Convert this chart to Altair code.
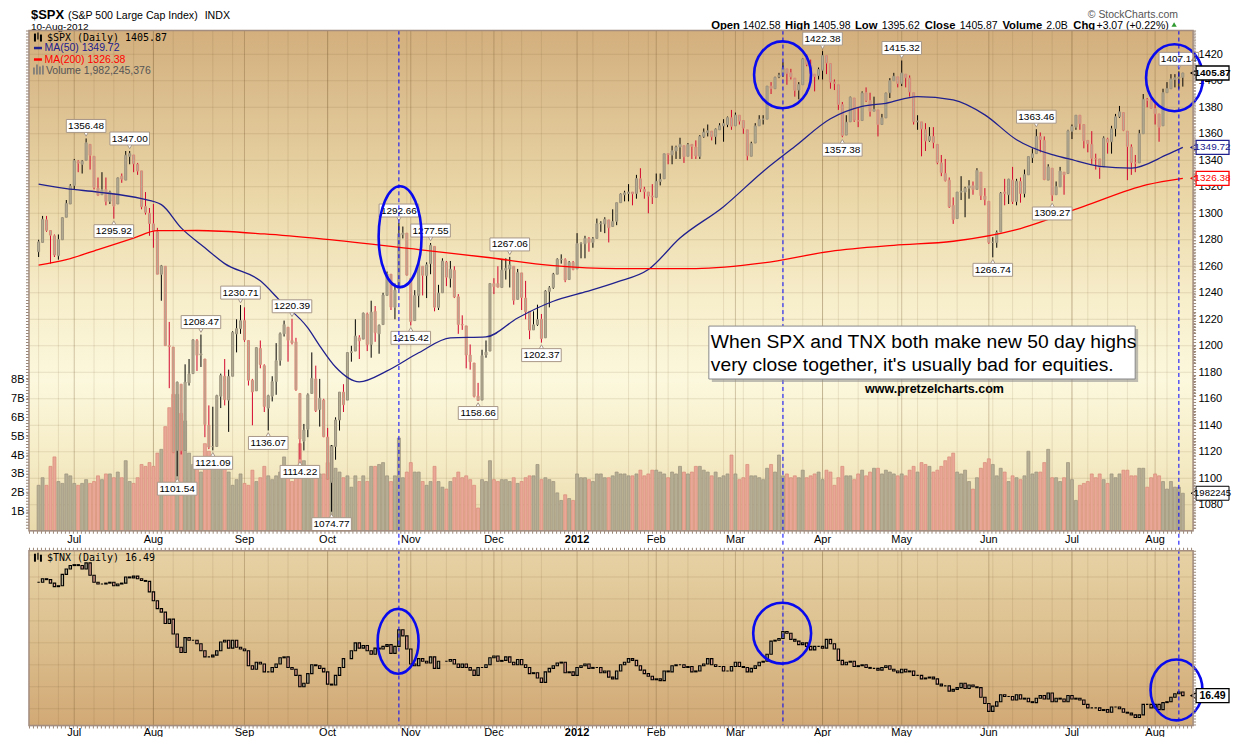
import altair as alt
import pandas as pd
import numpy as np

FONT = "Liberation Sans"
MONO = "DejaVu Sans Mono"

# ---------------- calendar ----------------
HOLIDAYS = ["2011-07-04", "2011-09-05", "2011-11-24", "2011-12-26", "2012-01-02",
            "2012-01-16", "2012-02-20", "2012-04-06", "2012-05-28", "2012-07-04"]
FIRST_DAY, LAST_DAY = "2011-06-20", "2012-08-10"

# ---------------- $SPX daily OHLC ----------------
SPX_OPEN = [
 1271,1278,1295,1287,1283,1268,1280,1297,1307,1321,
 1339,1337,1340,1352,1343,1319,1314,1318,1309,1315,
 1307,1328,1325,1343,1344,1337,1332,1305,1300,1292,
 1286,1254,1260,1200,1199,1121,1171,1121,1172,1179,
 1204,1193,1190,1140,1124,1124,1162,1177,1159,1177,
 1209,1213,1219,1204,1174,1166,1198,1185,1153,1162,
 1173,1189,1209,1214,1204,1203,1164,1128,1137,1164,
 1175,1152,1159,1131,1097,1124,1144,1165,1159,1195,
 1196,1206,1205,1224,1201,1226,1209,1216,1238,1254,
 1229,1243,1284,1285,1251,1219,1238,1260,1253,1262,
 1275,1229,1240,1263,1251,1257,1237,1216,1215,1193,
 1187,1162,1159,1193,1196,1247,1247,1244,1257,1258,
 1260,1235,1255,1236,1226,1212,1216,1220,1206,1241,
 1244,1254,1265,1265,1250,1263,1258,1277,1277,1281,
 1278,1281,1292,1292,1295,1290,1294,1308,1314,1315,
 1316,1315,1326,1318,1316,1313,1312,1324,1326,1345,
 1344,1347,1350,1351,1343,1352,1350,1343,1358,1361,
 1362,1358,1363,1366,1367,1372,1366,1374,1370,1363,
 1343,1353,1366,1371,1371,1396,1394,1403,1404,1409,
 1406,1402,1393,1397,1417,1412,1405,1404,1408,1419,
 1413,1399,1397,1382,1359,1369,1387,1370,1370,1391,
 1385,1377,1378,1367,1372,1391,1400,1403,1398,1405,
 1402,1391,1369,1369,1363,1355,1358,1352,1338,1330,
 1325,1306,1296,1316,1316,1319,1321,1318,1331,1313,
 1309,1278,1278,1286,1316,1314,1325,1309,1324,1315,
 1329,1342,1345,1358,1355,1325,1334,1314,1320,1331,
 1330,1362,1365,1374,1367,1355,1352,1341,1341,1335,
 1356,1354,1364,1373,1376,1362,1350,1338,1338,1360,
 1386,1385,1379,1375,1366,1391,1394,1401,1402,1402.58,
]
SPX_HIGH = [
 1280,1298,1298,1287,1284,1284,1297,1310,1322,1341,
 1340,1340,1356.48,1352,1343,1327,1331,1327,1317,1315,
 1327,1330,1347,1347.00,1344,1338,1332,1316,1304,1307,
 1289,1261,1260,1218,1199,1172.9,1171,1186,1190,1205,
 1205,1208.47,1190,1155,1154,1163,1179,1190,1182,1211,
 1220,1230.71,1229,1204,1175,1199,1204,1186,1163,1177,
 1202,1210,1219,1214,1220.39,1206,1164,1141,1164,1195,
 1185,1175,1160,1138,1125,1146,1165,1171,1195,1200,
 1220,1208,1225,1225,1234,1230,1216,1240,1256,1254,
 1247,1292.66,1290,1285,1251,1242,1264,1260,1263,1277.55,
 1275,1246,1266,1264,1264,1260,1239,1223,1215,1201,
 1187,1172,1197,1204,1247,1251,1260,1265,1266,1267.06,
 1260,1258,1255,1249,1226,1226,1231,1224,1242,1245,
 1255,1266,1269,1266,1264,1264,1285,1278,1283,1282,
 1282,1296,1294,1297,1295,1303,1308,1315,1317,1322,
 1316,1329,1334,1320,1316,1322,1330,1330,1345,1345,
 1351,1351,1357,1351,1353,1352,1355,1359,1364,1367,
 1362,1364,1368,1371,1373,1378,1376,1374,1370,1363,
 1354,1368,1374,1374,1396,1399,1403,1406,1414,1409,
 1409,1402,1399,1417,1420,1416,1405,1410,1422.38,1419,
 1413,1401,1397,1384,1374,1388,1387,1380,1392,1395,
 1391,1388,1378,1375,1391,1402,1406,1403,1415.32,1405,
 1404,1391,1374,1369,1368,1365,1365,1352,1344,1341,
 1327,1312,1316,1328,1320,1325,1324,1334,1331,1319,
 1309,1282,1287,1316,1326,1326,1335,1326,1327,1333,
 1343,1349,1363.46,1361,1358,1337,1334,1324,1335,1331,
 1363,1367,1374,1374,1367,1355,1362,1345,1341,1358,
 1357,1366,1375,1381,1376,1362,1352,1344,1363,1390,
 1387,1387,1385,1375,1394,1399,1405,1405,1407.14,1405.98,
]
SPX_LOW = [
 1267,1278,1286,1262,1267,1265,1280,1297,1307,1318,
 1331,1330,1340,1333,1318,1313,1314,1306,1307,1295.92,
 1307,1323,1325,1337,1331,1329,1303,1299,1283,1274,
 1254,1234,1200,1168,1119,1101.54,1118,1121,1170,1179,
 1181,1184,1131,1122,1121.09,1124,1153,1155,1135,1177,
 1195,1209,1203,1170,1140,1166,1183,1150,1136.07,1158,
 1163,1185,1207,1188,1201,1166,1114.22,1121,1131,1164,
 1150,1139,1131,1099,1074.77,1114,1136,1150,1159,1188,
 1196,1190,1205,1196,1191,1203,1194,1216,1238,1227,
 1220,1243,1281,1253,1215.42,1219,1229,1238,1236,1254,
 1226,1227,1240,1245,1244,1236,1209,1212,1183,1182,
 1161,1158.66,1159,1191,1196,1239,1244,1244,1250,1244,
 1231,1235,1227,1220,1205,1212,1215,1202.37,1206,1229,
 1243,1254,1262,1248,1250,1257,1258,1266,1266,1271,
 1274,1281,1286,1285,1278,1290,1291,1308,1309,1309,
 1306,1311,1316,1311,1300,1307,1312,1321,1326,1337,
 1337,1341,1341,1338,1343,1341,1341,1341,1357,1358,
 1355,1352,1363,1354,1365,1363,1366,1367,1360,1340,
 1343,1353,1366,1367,1371,1390,1394,1402,1403,1397,
 1401,1388,1386,1397,1411,1398,1392,1401,1401,1405,
 1394,1393,1378,1357.38,1359,1369,1369,1365,1370,1384,
 1373,1377,1358,1367,1372,1387,1400,1395,1396,1395,
 1388,1367,1363,1343,1347,1354,1349,1337,1328,1324,
 1304,1292,1296,1310,1297,1311,1314,1318,1310,1306,
 1277,1266.74,1274,1286,1306,1307,1307,1306,1308,1312,
 1329,1338,1345,1346,1325,1325,1309.27,1314,1320,1314,
 1330,1356,1363,1363,1349,1346,1337,1333,1326,1335,
 1345,1345,1358,1372,1362,1325,1329,1331,1338,1360,
 1380,1379,1367,1354,1366,1391,1394,1395,1394,1395.62,
]
SPX_CLOSE = [
 1278.4,1295.5,1287.1,1283.5,1268.5,1280.1,1296.7,1307.4,1320.6,1339.7,
 1337.9,1339.2,1353.2,1343.8,1319.5,1313.6,1317.7,1308.9,1316.1,1305.4,
 1326.7,1325.8,1343.8,1345.0,1337.4,1331.9,1304.9,1300.7,1292.3,1286.9,
 1254.0,1260.3,1200.1,1199.4,1119.5,1172.5,1120.8,1172.6,1178.8,1204.5,
 1192.8,1193.9,1140.6,1123.5,1123.8,1162.4,1177.6,1159.3,1176.8,1210.1,
 1212.9,1218.9,1204.4,1174.0,1165.2,1198.6,1185.9,1154.2,1162.3,1172.9,
 1188.7,1209.1,1216.0,1204.1,1202.1,1166.8,1129.6,1136.4,1163.0,1175.4,
 1151.1,1160.4,1131.4,1099.2,1124.0,1144.0,1165.0,1155.5,1194.9,1195.5,
 1207.3,1203.7,1224.6,1200.9,1225.4,1209.9,1215.4,1238.3,1254.2,1229.1,
 1242.0,1284.6,1285.1,1253.3,1218.3,1237.9,1261.2,1253.2,1261.1,1275.9,
 1229.1,1239.7,1263.9,1251.8,1257.8,1236.9,1216.1,1215.7,1193.0,1188.0,
 1161.8,1158.7,1192.6,1195.2,1247.0,1244.6,1244.3,1257.1,1258.5,1261.0,
 1234.4,1255.2,1236.5,1225.7,1211.8,1215.8,1219.7,1205.4,1241.3,1243.7,
 1254.0,1265.3,1265.4,1249.6,1263.0,1257.6,1277.1,1277.3,1281.1,1277.8,
 1280.7,1292.1,1292.5,1295.5,1289.1,1293.7,1308.0,1314.5,1315.4,1316.0,
 1314.7,1326.1,1318.4,1316.3,1313.0,1312.4,1324.1,1325.5,1344.9,1344.3,
 1347.1,1350.0,1352.0,1342.6,1351.8,1350.5,1343.2,1358.0,1361.2,1362.2,
 1357.7,1363.5,1366.0,1367.6,1372.2,1365.7,1374.1,1369.6,1364.3,1343.4,
 1352.6,1365.9,1370.9,1371.1,1396.0,1394.3,1402.6,1404.2,1409.8,1405.5,
 1402.9,1392.8,1397.1,1416.5,1412.5,1405.5,1403.3,1408.5,1419.0,1413.4,
 1399.0,1398.1,1382.2,1358.6,1368.7,1387.6,1370.3,1369.6,1390.8,1385.1,
 1376.9,1378.5,1366.9,1372.0,1390.7,1400.0,1403.4,1397.9,1405.8,1402.3,
 1391.6,1369.1,1369.6,1363.7,1354.6,1358.0,1353.4,1338.4,1330.7,1324.8,
 1304.9,1295.2,1316.0,1316.6,1318.9,1320.7,1317.8,1332.4,1313.3,1310.3,
 1278.0,1278.2,1285.5,1315.1,1315.0,1325.7,1308.9,1324.2,1314.9,1329.1,
 1342.8,1344.8,1358.0,1355.7,1325.5,1335.0,1313.7,1320.0,1331.9,1329.0,
 1362.2,1365.5,1374.0,1367.6,1354.7,1352.5,1341.5,1341.4,1334.8,1356.8,
 1353.6,1363.7,1372.8,1376.5,1362.7,1350.5,1338.3,1337.9,1360.0,1386.0,
 1385.3,1379.3,1375.1,1365.0,1391.0,1394.2,1401.4,1402.2,1402.8,1405.87,
]
PREV_CLOSE_FIRST = 1271.5
VOLUME_B = [
 2.4,2.8,2.4,3.4,3.9,2.6,2.5,3.0,2.9,2.5,
 2.4,2.5,2.7,2.5,2.6,2.9,2.7,3.0,3.0,2.8,
 3.1,2.8,3.7,2.6,2.5,2.8,3.5,3.4,3.6,3.4,
 4.1,4.3,5.5,6.5,7.2,7.2,6.2,5.8,4.1,3.5,
 3.4,3.1,4.6,4.2,3.6,3.7,3.6,3.3,3.1,2.4,
 2.7,3.0,2.5,2.4,3.2,2.6,2.8,3.4,2.9,2.7,
 2.9,3.1,3.9,2.9,2.6,3.3,4.6,3.7,3.2,3.3,
 2.9,3.0,3.0,3.6,4.5,3.3,3.1,2.8,2.9,2.3,
 2.9,2.6,2.9,2.6,3.4,3.4,3.5,3.6,2.9,2.6,
 2.9,4.9,2.8,3.1,3.6,3.1,3.1,2.6,2.4,2.6,
 3.4,2.6,2.3,2.2,2.6,2.8,3.1,2.8,2.9,2.7,
 2.4,1.2,2.7,2.6,3.7,2.7,2.6,2.7,2.7,2.6,
 2.8,2.5,2.6,2.8,2.9,2.9,3.5,2.7,2.8,2.7,
 2.6,2.0,1.6,1.9,1.7,1.6,3.0,2.8,2.8,2.7,
 2.6,3.0,3.0,2.8,2.8,2.9,3.1,3.0,3.0,2.9,
 2.9,3.0,3.2,2.9,3.0,3.2,3.2,3.1,3.0,2.8,
 3.1,3.0,3.4,3.1,3.0,3.1,3.4,3.4,3.2,3.1,
 2.9,3.1,2.8,2.9,3.0,4.0,3.0,2.7,2.8,3.5,
 2.9,2.9,2.8,2.7,3.3,3.5,3.1,4.0,2.9,3.0,
 2.8,2.9,2.8,3.2,2.8,2.9,3.0,3.1,2.7,3.2,
 3.1,2.4,2.8,3.4,2.9,2.9,2.7,3.0,3.2,2.9,
 3.1,3.3,3.3,3.0,3.2,3.1,3.0,2.9,3.0,2.9,
 3.2,3.4,3.1,3.6,3.5,3.4,3.1,3.2,3.4,3.7,
 3.9,4.1,3.1,3.0,3.2,2.6,2.2,2.8,3.3,3.6,
 3.8,3.5,2.9,3.3,3.1,2.6,2.9,2.8,2.7,2.9,
 4.2,3.0,3.1,3.1,3.6,4.3,2.8,2.8,2.6,2.8,
 3.6,2.7,1.6,2.4,2.5,2.6,3.0,2.8,3.0,2.7,
 2.5,3.0,2.8,3.0,3.2,3.2,2.9,2.9,3.3,3.3,
 2.3,2.8,3.0,2.9,2.6,2.2,2.6,2.3,2.3,1.98,
]
LAST_VOLUME = 1982245376

# ---------------- $TNX daily close (None = bond market closed) ----------------
TNX_CLOSE = [
 29.4,29.8,29.7,29.3,28.9,29.0,30.3,30.9,31.3,31.4,
 31.3,30.9,31.6,30.2,29.4,29.2,29.2,29.3,29.4,29.0,
 29.2,29.3,30.0,29.9,30.1,29.8,29.6,29.5,28.3,27.3,
 26.4,26.0,24.7,25.2,23.5,22.0,21.4,23.1,22.8,22.8,
 22.4,21.6,20.9,20.9,21.1,21.6,22.6,22.8,21.9,22.8,
 22.0,21.8,21.6,19.9,19.5,20.3,20.1,19.2,19.2,19.7,
 20.1,20.8,20.9,19.7,19.5,18.8,17.5,17.9,19.0,20.0,
 19.9,19.6,19.2,17.8,17.7,18.8,19.7,20.7,None,21.6,
 22.5,21.9,22.2,21.6,21.2,21.9,21.8,22.1,22.3,21.3,
 22.1,24.0,23.3,21.8,20.1,19.9,20.7,20.4,20.2,20.9,
 19.6,20.4,None,20.4,20.6,20.1,19.7,20.1,19.7,19.4,
 18.8,19.7,19.7,20.0,20.8,21.0,20.4,20.5,20.9,20.3,
 20.0,20.6,20.0,19.7,19.0,19.1,18.5,18.0,19.2,19.6,
 19.9,20.2,20.3,19.1,19.2,18.8,19.7,19.9,20.1,19.6,
 19.7,19.7,19.1,19.3,18.6,18.4,19.3,20.0,20.3,20.7,
 20.5,19.9,19.4,19.0,18.7,18.3,18.4,18.2,19.3,19.2,
 19.9,20.0,20.0,19.7,19.8,19.2,19.3,19.9,20.1,20.7,
 20.0,19.8,19.8,19.3,19.3,19.8,20.3,19.8,19.7,19.2,
 19.6,19.9,20.3,20.4,21.2,22.7,22.8,23.0,23.8,23.6,
 22.9,22.7,22.3,22.5,22.1,21.7,22.1,22.1,21.9,22.9,
 22.4,21.8,20.5,20.0,20.3,20.4,19.8,19.9,20.0,19.7,
 19.6,19.6,19.4,19.7,19.9,19.5,19.3,19.1,19.5,19.2,
 19.3,18.8,18.8,18.4,18.5,18.6,18.4,17.8,17.6,17.6,
 17.0,17.2,17.4,17.9,17.3,17.7,17.5,17.4,16.3,15.6,
 14.7,15.3,15.8,16.6,16.4,16.4,16.0,16.6,16.1,16.2,
 15.8,15.7,16.2,16.5,16.1,16.8,15.8,16.2,16.1,15.8,
 16.5,16.1,16.2,16.0,15.5,15.1,15.1,15.1,14.8,14.9,
 14.6,15.2,15.2,15.0,14.6,14.5,14.3,14.0,14.3,15.5,
 15.5,15.1,15.5,14.9,15.7,15.8,16.3,16.7,16.9,16.49,
]

# ---------------- moving averages (by day index) ----------------
MA50_IDX = [0,7,15,26,31,36,42,47,56,61,68,71,75,81,88,96,104,113,121,130,138,146,154,162,
            173,183,191,200,208,214,222,231,239,247,256,260,268,276,285,289]
MA50_VAL = [1322,1318.6,1316,1311,1306.5,1289,1274,1262,1249,1234,1213.5,1200,1184,1172.8,1181,
            1194.7,1206,1206.7,1221,1233.6,1240.6,1248,1257.5,1281.3,1305,1331.6,1350.4,1371.3,
            1380.6,1383,1388.1,1385.6,1374.3,1355.5,1344.2,1341.2,1335.4,1334.1,1344.2,1349.72]
MA200_IDX = [0,7,15,24,30,40,57,72,96,113,130,146,166,183,200,216,231,247,264,280,289]
MA200_VAL = [1260.8,1265,1272.6,1281.3,1286.9,1287,1284.4,1280.5,1272.6,1266.8,1260.5,1258.3,
             1258.3,1262.5,1271.3,1275.8,1278.9,1287.7,1305.2,1321.6,1326.38]

# labelled swing highs / lows (day indices)
HIGH_LABEL_IDX = [12, 23, 41, 51, 64, 91, 99, 119, 198, 218, 252, 288]
LOW_LABEL_IDX = [19, 35, 44, 58, 66, 74, 94, 111, 127, 203, 241, 256]

EVENT_DATES = ["2011-10-27", "2012-03-19", "2012-08-09"]
# annotation rings: (day index, value, width px, height px)
SPX_RINGS = [(91.3, 1282.3, 43, 101), (187.9, 1404.5, 57, 67), (286.9, 1402.3, 57, 67)]
TNX_RINGS = [(90.8, 22.67, 41, 65), (187.8, 23.6, 58, 61), (287.4, 17.14, 52, 61)]

NOTE_LINES = ["When SPX and TNX both make new 50 day highs",
              "very close together, it's usually bad for equities."]
SITE = "www.pretzelcharts.com"

# ---------------- geometry ----------------
W, H1, H2 = 1166, 501, 175
XDOM = [-1.175, 290.325]
PDOM = [1060.4, 1437.9]
VDOM = [0, 26.42]
TDOM = [13.10, 32.99]
PPP = H1 / (PDOM[1] - PDOM[0])
TPP = H2 / (TDOM[1] - TDOM[0])

RED = "#d3062e"
MA50_C = "#20208e"
MA200_C = "#ff0000"
GRID = "#6e5028"
RING = "#0a0aee"
BORDER = "#a38d80"
TICK = "#9c8878"

dates = [d for d in pd.bdate_range(FIRST_DAY, LAST_DAY) if d.strftime("%Y-%m-%d") not in HOLIDAYS]
n = min(len(dates), len(SPX_CLOSE), len(SPX_OPEN), len(SPX_HIGH), len(SPX_LOW), len(VOLUME_B), len(TNX_CLOSE))
dates = dates[:n]

df = pd.DataFrame({
    "i": np.arange(n), "o": SPX_OPEN[:n], "h": SPX_HIGH[:n], "l": SPX_LOW[:n],
    "c": SPX_CLOSE[:n], "v": VOLUME_B[:n], "t": TNX_CLOSE[:n],
})
df["t"] = df["t"].astype(float)
prev = df["c"].shift(1).fillna(PREV_CLOSE_FIRST)
df["dir"] = np.where(df["c"] >= prev, "up", "dn")
df["top"] = df[["o", "c"]].max(axis=1)
df["bot"] = df[["o", "c"]].min(axis=1)
df["fk"] = np.where(df["c"] >= df["o"], "hollow", np.where(df["dir"] == "up", "upfill", "dnfill"))

tn = df[["i", "t"]].copy()
tn["to"] = tn["t"].ffill().shift(1)
tn = tn.dropna(subset=["t"]).copy()
tn["to"] = tn["to"].fillna(tn["t"])
tn["ttop"] = tn[["t", "to"]].max(axis=1)
tn["tbot"] = tn[["t", "to"]].min(axis=1)
tn["tf"] = np.where(tn["t"] < tn["to"], "dn", "up")

month_idx = [i for i in range(1, n) if dates[i].month != dates[i - 1].month]
month_lab = ["2012" if dates[i].month == 1 else dates[i].strftime("%b") for i in month_idx]
month_df = pd.DataFrame({"i": month_idx, "lab": month_lab,
                         "bold": [dates[i].month == 1 for i in month_idx]})
week_df = pd.DataFrame({"i": [i for i in range(n) if dates[i].weekday() == 0]})
date_str = [d.strftime("%Y-%m-%d") for d in dates]
event_df = pd.DataFrame({"i": [date_str.index(s) for s in EVENT_DATES if s in date_str]})

# ---------------- scales / axes ----------------
xs = alt.Scale(domain=XDOM, nice=False, zero=False)
ps = alt.Scale(domain=PDOM, nice=False, zero=False)
vs = alt.Scale(domain=VDOM, nice=False, zero=False)
ts = alt.Scale(domain=TDOM, nice=False, zero=False)

PAXIS = alt.Axis(orient="right", values=[1062.5 + 2.5 * k for k in range(151)], format="d",
                 labelExpr="datum.value % 20 == 0 ? datum.label : ''", tickSize=2,
                 tickColor=TICK, labelFont=FONT, labelFontSize=11, labelColor="#000000",
                 labelPadding=3, domain=False, grid=False, labelOverlap=False, title=None)
VAXIS = alt.Axis(orient="left", values=[1, 2, 3, 4, 5, 6, 7, 8], labelExpr="datum.value + 'B'",
                 tickSize=3, tickColor=TICK, labelFont=FONT, labelFontSize=11,
                 labelColor="#000000", labelPadding=2, domain=False, grid=False, title=None)
TAXIS = alt.Axis(orient="right", values=[13.5 + 0.5 * k for k in range(39)], format=".1f",
                 labelExpr="datum.value % 2.5 == 0 ? datum.label : ''", tickSize=2,
                 tickColor=TICK, labelFont=FONT, labelFontSize=11, labelColor="#000000",
                 labelPadding=3, domain=False, grid=False, labelOverlap=False, title=None)

def X(field="i", axis=None):
    return alt.X(f"{field}:Q", scale=xs, axis=axis)

def one():
    return alt.Data(values=[{"k": 0}])

def text_at(s, x, y, size=11, weight="normal", color="#000000", font=FONT, align="left", baseline="alphabetic"):
    return alt.Chart(alt.Data(values=[{"t": s}])).mark_text(
        align=align, baseline=baseline, fontSize=size, fontWeight=weight, color=color, font=font
    ).encode(x=alt.value(x), y=alt.value(y), text="t:N")

def box(x1, x2, y1, y2, fill="white", stroke=None, sw=1, opacity=1.0):
    kw = dict(fill=fill, opacity=opacity)
    if stroke is not None:
        kw.update(stroke=stroke, strokeWidth=sw)
    return alt.Chart(one()).mark_rect(**kw).encode(
        x=alt.value(x1), x2=alt.value(x2), y=alt.value(y1), y2=alt.value(y2))

def pix_rule(x1, x2, y1, y2, color, width, dash=None):
    kw = dict(color=color, strokeWidth=width)
    if dash is not None:
        kw["strokeDash"] = dash
    return alt.Chart(one()).mark_rule(**kw).encode(
        x=alt.value(x1), x2=alt.value(x2), y=alt.value(y1), y2=alt.value(y2))

def ellipse_path(a):
    k = 0.5523
    return (f"M {a:.4f} 0 C {a:.4f} {k} {a*k:.4f} 1 0 1 C {-a*k:.4f} 1 {-a:.4f} {k} {-a:.4f} 0 "
            f"C {-a:.4f} {-k} {-a*k:.4f} -1 0 -1 C {a*k:.4f} -1 {a:.4f} {-k} {a:.4f} 0 Z")

def ring(ix, val, w, h, yscale):
    return alt.Chart(alt.Data(values=[{"i": ix, "y": val}])).mark_point(
        shape=ellipse_path(w / h), size=h * h, filled=False, color=RING, strokeWidth=2.6, opacity=1
    ).encode(x=X("i"), y=alt.Y("y:Q", scale=yscale, axis=None))

def month_labels(hh, off):
    base = alt.Chart(month_df)
    reg = base.transform_filter("!datum.bold").mark_text(
        font=FONT, fontSize=11, baseline="top", align="center", color="#000000").encode(
        x=X("i"), y=alt.value(hh + off), text="lab:N")
    bold = base.transform_filter("datum.bold").mark_text(
        font=FONT, fontSize=11, fontWeight="bold", baseline="top", align="center", color="#000000").encode(
        x=X("i"), y=alt.value(hh + off), text="lab:N")
    return [reg, bold]

def icon_candles():
    return [pix_rule(6, 6, 3, 11, "#000000", 2), pix_rule(9, 9, 2, 9, "#000000", 1.2),
            pix_rule(12, 12, 4, 11, "#000000", 2)]

def tick_rows(hh, top_row, bottom_row, left_col):
    out = [pix_rule(W + 1.5, W + 1.5, 0, hh, TICK, 3, [1, 2])]
    if top_row:
        out.append(pix_rule(0, W, -1.5, -1.5, TICK, 3, [1, 3]))
    if bottom_row:
        out.append(pix_rule(0, W, hh + 1.5, hh + 1.5, TICK, 3, [1, 3]))
    if left_col:
        out.append(pix_rule(-1.5, -1.5, 0, hh, TICK, 3, [1, 2]))
    return out

grad_top = alt.Gradient(gradient="linear", x1=0, x2=0, y1=0, y2=1, stops=[
    alt.GradientStop(offset=0.0, color="#d3af7d"),
    alt.GradientStop(offset=0.14, color="#dcbf8f"),
    alt.GradientStop(offset=0.34, color="#ebd8a9"),
    alt.GradientStop(offset=0.54, color="#f7eecb"),
    alt.GradientStop(offset=0.70, color="#fcf8dd"),
    alt.GradientStop(offset=0.84, color="#f6edc8"),
    alt.GradientStop(offset=1.0, color="#e9daab"),
])
grad_tnx = alt.Gradient(gradient="linear", x1=0, x2=0, y1=0, y2=1, stops=[
    alt.GradientStop(offset=0.0, color="#e7d2a5"),
    alt.GradientStop(offset=0.5, color="#dcbf8e"),
    alt.GradientStop(offset=1.0, color="#d1a976"),
])

# ================= top panel: $SPX =================
bg_top = alt.Chart(one()).mark_rect(color=grad_top).encode(
    x=alt.value(0), x2=alt.value(W), y=alt.value(0), y2=alt.value(H1))
wk_top = alt.Chart(week_df).mark_rule(color=GRID, opacity=0.13).encode(
    x=X("i"), y=alt.value(0), y2=alt.value(H1))
mo_top = alt.Chart(month_df).mark_rule(color=GRID, opacity=0.3).encode(
    x=X("i"), y=alt.value(0), y2=alt.value(H1))
hg_top = alt.Chart(pd.DataFrame({"p": list(range(1080, 1421, 20))})).mark_rule(
    color=GRID, opacity=0.15).encode(y=alt.Y("p:Q", scale=ps, axis=PAXIS), x=alt.value(0), x2=alt.value(W))

vol = alt.Chart(df).mark_bar(size=3, strokeWidth=0.7).encode(
    x=X("i"), y=alt.Y("v:Q", scale=vs, axis=VAXIS),
    fill=alt.Fill("dir:N", scale=alt.Scale(domain=["up", "dn"], range=["#b6ad95", "#e9a797"]), legend=None),
    stroke=alt.Stroke("dir:N", scale=alt.Scale(domain=["up", "dn"], range=["#9a917c", "#d88a78"]), legend=None),
)

dir_color = alt.Color("dir:N", scale=alt.Scale(domain=["up", "dn"], range=["#000000", RED]), legend=None)

def PY(f):
    return alt.Y(f"{f}:Q", scale=ps, axis=None)

wick_hi = alt.Chart(df).mark_rule(strokeWidth=1).encode(x=X("i"), y=PY("h"), y2="top:Q", color=dir_color)
wick_lo = alt.Chart(df).mark_rule(strokeWidth=1).encode(x=X("i"), y=PY("bot"), y2="l:Q", color=dir_color)
body = alt.Chart(df).mark_bar(size=2, strokeWidth=1).encode(
    x=X("i"), y=PY("top"), y2="bot:Q",
    fill=alt.Fill("fk:N", scale=alt.Scale(domain=["hollow", "upfill", "dnfill"],
                                          range=["transparent", "#000000", RED]), legend=None),
    stroke=alt.Stroke("dir:N", scale=alt.Scale(domain=["up", "dn"], range=["#000000", RED]), legend=None),
)
ma50 = alt.Chart(pd.DataFrame({"i": MA50_IDX, "m": MA50_VAL})).mark_line(
    color=MA50_C, strokeWidth=1.3, interpolate="monotone").encode(x=X("i"), y=PY("m"))
ma200 = alt.Chart(pd.DataFrame({"i": MA200_IDX, "m": MA200_VAL})).mark_line(
    color=MA200_C, strokeWidth=1.3, interpolate="monotone").encode(x=X("i"), y=PY("m"))

rows = []
for i in HIGH_LABEL_IDX:
    v = SPX_HIGH[i]
    yc = v + 12.5 / PPP
    rows.append({"i": i, "x1": i - 5.0, "x2": i + 5.0, "yc": yc, "y1": yc + 6.5 / PPP, "y2": yc - 6.5 / PPP,
                 "ty": v + 4.5 / PPP, "kind": "h", "txt": f"{v:.2f}"})
for i in LOW_LABEL_IDX:
    v = SPX_LOW[i]
    yc = v - 12.5 / PPP
    rows.append({"i": i, "x1": i - 5.0, "x2": i + 5.0, "yc": yc, "y1": yc + 6.5 / PPP, "y2": yc - 6.5 / PPP,
                 "ty": v - 4.5 / PPP, "kind": "l", "txt": f"{v:.2f}"})
lab = pd.DataFrame(rows)
lab_tri = alt.Chart(lab).mark_point(filled=True, fill="white", stroke="#a89888", strokeWidth=1,
                                    size=28, opacity=1).encode(
    x=X("i"), y=PY("ty"),
    shape=alt.Shape("kind:N", scale=alt.Scale(domain=["h", "l"], range=["triangle-down", "triangle-up"]),
                    legend=None))
lab_box = alt.Chart(lab).mark_rect(fill="white", stroke="#a89888", strokeWidth=1).encode(
    x=X("x1"), x2="x2:Q", y=PY("y1"), y2="y2:Q")
lab_txt = alt.Chart(lab).mark_text(font=FONT, fontSize=10, color="#000000", baseline="middle").encode(
    x=X("i"), y=PY("yc"), text="txt:N")

tags = pd.DataFrame([
    {"val": SPX_CLOSE[-1], "sc": "#000000", "tc": "#000000", "txt": f"{SPX_CLOSE[-1]:.2f}", "b": 1},
    {"val": MA50_VAL[-1], "sc": MA50_C, "tc": MA50_C, "txt": f"{MA50_VAL[-1]:.2f}", "b": 0},
    {"val": MA200_VAL[-1], "sc": MA200_C, "tc": MA200_C, "txt": f"{MA200_VAL[-1]:.2f}", "b": 0},
])
tags["y1"] = tags["val"] + 7 / PPP
tags["y2"] = tags["val"] - 7 / PPP
tag_box = alt.Chart(tags).mark_rect(fill="white", strokeWidth=1.3).encode(
    x=alt.value(W + 3), x2=alt.value(W + 36), y=PY("y1"), y2="y2:Q", stroke=alt.Stroke("sc:N", scale=None))
tag_tri = alt.Chart(tags).mark_point(shape="triangle-left", filled=True, fill="white", size=45,
                                     strokeWidth=1.3, opacity=1).encode(
    x=alt.value(W + 1), y=PY("val"), stroke=alt.Stroke("sc:N", scale=None))
tag_txt_b = alt.Chart(tags[tags.b == 1]).mark_text(font=FONT, fontSize=10, fontWeight="bold",
                                                   baseline="middle", align="center").encode(
    x=alt.value(W + 19.5), y=PY("val"), text="txt:N", color=alt.Color("tc:N", scale=None))
tag_txt_n = alt.Chart(tags[tags.b == 0]).mark_text(font=FONT, fontSize=10, baseline="middle",
                                                   align="center").encode(
    x=alt.value(W + 19.5), y=PY("val"), text="txt:N", color=alt.Color("tc:N", scale=None))

price_group = alt.layer(
    wick_hi, wick_lo, body, ma50, ma200, lab_tri, lab_box, lab_txt,
    *[ring(a, b, c, d, ps) for (a, b, c, d) in SPX_RINGS],
    tag_tri, tag_box, tag_txt_b, tag_txt_n,
)

vtag = pd.DataFrame([{"val": VOLUME_B[-1], "txt": str(LAST_VOLUME)[:7]}])
vtag["y1"] = vtag["val"] + 7 * (VDOM[1] - VDOM[0]) / H1
vtag["y2"] = vtag["val"] - 7 * (VDOM[1] - VDOM[0]) / H1
vtag_tri = alt.Chart(vtag).mark_point(shape="triangle-left", filled=True, fill="white", stroke="#000000",
                                      size=45, strokeWidth=1, opacity=1).encode(
    x=alt.value(W + 1), y=alt.Y("val:Q", scale=vs, axis=None))
vtag_box = alt.Chart(vtag).mark_rect(fill="white", stroke="#000000", strokeWidth=1).encode(
    x=alt.value(W + 3), x2=alt.value(W + 36), y=alt.Y("y1:Q", scale=vs, axis=None), y2="y2:Q")
vtag_txt = alt.Chart(vtag).mark_text(font=FONT, fontSize=9.5, baseline="middle", align="center",
                                     color="#000000").encode(
    x=alt.value(W + 19.5), y=alt.Y("val:Q", scale=vs, axis=None), text="txt:N")

dash_top = alt.Chart(event_df).mark_rule(color="#0000ff", strokeDash=[4, 3], strokeWidth=1).encode(
    x=X("i"), y=alt.value(0), y2=alt.value(H1 + 15))

last_o, last_h, last_l, last_c = SPX_OPEN[-1], SPX_HIGH[-1], SPX_LOW[-1], SPX_CLOSE[-1]
chg = last_c - SPX_CLOSE[-2]
pct = chg / SPX_CLOSE[-2] * 100
hdr_items = [("Open", 683.3, True), (f"{last_o:.2f}", 715.0, False), ("High", 757.3, True),
             (f"{last_h:.2f}", 785.0, False), ("Low", 827.3, True), (f"{last_l:.2f}", 854.3, False),
             ("Close", 897.3, True), (f"{last_c:.2f}", 932.3, False), ("Volume", 975.0, True),
             (f"{LAST_VOLUME / 1e9:.1f}B", 1019.0, False), ("Chg", 1046.0, True),
             (f"{chg:+.2f} ({pct:+.2f}%)", 1069.3, False)]
hdr_layers = [text_at(s, x, -2, size=11.3 if b else 10.5, weight="bold" if b else "normal")
              for s, x, b in hdr_items]
up_tri = alt.Chart(one()).mark_point(shape="triangle-up", filled=True, color="#2f9a2f", size=28,
                                     opacity=1).encode(x=alt.value(1147), y=alt.value(-6))

vol_icon = [pix_rule(5, 5, 37, 44, "#777777", 1.6), pix_rule(8, 8, 34, 44, "#777777", 1.6),
            pix_rule(11, 11, 36, 44, "#777777", 1.6), pix_rule(14, 14, 35, 44, "#777777", 1.6)]

annot_top = [
    text_at("$SPX", 2, -11.5, size=13, weight="bold"),
    text_at("(S&P 500 Large Cap Index)", 39, -11.5, size=10.6),
    text_at("INDX", 176, -11.5, size=10.6),
    text_at(dates[-1].strftime("%d-%b-%Y"), 2, -0.8, size=10),
    text_at("\u00a9 StockCharts.com", 1151, -12.5, size=10.5, color="#555555", align="right"),
    *hdr_layers, up_tri,
    *icon_candles(),
    text_at(f"$SPX (Daily) {SPX_CLOSE[-1]:.2f}", 18, 7, size=10, font=MONO, baseline="middle"),
    pix_rule(5, 13, 17.5, 17.5, MA50_C, 2.5), pix_rule(5, 13, 29, 29, MA200_C, 2.5),
    text_at(f"MA(50) {MA50_VAL[-1]:.2f}", 15.5, 17.7, size=10.5, color=MA50_C, baseline="middle"),
    text_at(f"MA(200) {MA200_VAL[-1]:.2f}", 15.5, 29.3, size=10.5, color=MA200_C, baseline="middle"),
    *vol_icon,
    text_at(f"Volume {LAST_VOLUME:,}", 17, 40.5, size=10.5, color="#555555", baseline="middle"),
    box(684, 1111, 299, 352, fill="#8c8c8c", opacity=0.55),
    box(681, 1108, 296, 349, fill="white", stroke="#8a8a8a", sw=1),
    text_at(NOTE_LINES[0], 683, 311.5, size=19.3, baseline="middle"),
    text_at(NOTE_LINES[1], 683, 334.5, size=19.3, baseline="middle"),
    text_at(SITE, 907, 359.5, size=12.5, weight="bold", align="center", baseline="middle"),
]
border_top = alt.Chart(one()).mark_rect(fill="transparent", stroke=BORDER, strokeWidth=1.5).encode(
    x=alt.value(0), x2=alt.value(W), y=alt.value(0), y2=alt.value(H1))

top = alt.layer(
    bg_top, wk_top, mo_top, hg_top, vol, price_group,
    vtag_tri, vtag_box, vtag_txt, dash_top, *annot_top, *month_labels(H1, 3.5),
    *tick_rows(H1, False, True, True), border_top,
).resolve_scale(y="independent").properties(width=W, height=H1)

# ================= bottom panel: $TNX =================
def TY(f, axis=None):
    return alt.Y(f"{f}:Q", scale=ts, axis=axis)

bg_t = alt.Chart(one()).mark_rect(color=grad_tnx).encode(
    x=alt.value(0), x2=alt.value(W), y=alt.value(0), y2=alt.value(H2))
wk_t = alt.Chart(week_df).mark_rule(color=GRID, opacity=0.13).encode(
    x=X("i"), y=alt.value(0), y2=alt.value(H2))
mo_t = alt.Chart(month_df).mark_rule(color=GRID, opacity=0.3).encode(
    x=X("i"), y=alt.value(0), y2=alt.value(H2))
hg_t = alt.Chart(pd.DataFrame({"p": [15 + 2.5 * k for k in range(8)]})).mark_rule(
    color=GRID, opacity=0.15).encode(y=TY("p", TAXIS), x=alt.value(0), x2=alt.value(W))
tbody = alt.Chart(tn).mark_bar(size=2.4, strokeWidth=1.1, stroke="#000000").encode(
    x=X("i"), y=TY("ttop"), y2="tbot:Q",
    fill=alt.Fill("tf:N", scale=alt.Scale(domain=["dn", "up"], range=["#000000", "transparent"]), legend=None))
dash_t = alt.Chart(event_df).mark_rule(color="#0000ff", strokeDash=[4, 3], strokeWidth=1).encode(
    x=X("i"), y=alt.value(-1), y2=alt.value(H2))

last_t = [v for v in TNX_CLOSE if v is not None][-1]
ttag = pd.DataFrame([{"val": last_t, "txt": f"{last_t:.2f}"}])
ttag["y1"] = ttag["val"] + 7 / TPP
ttag["y2"] = ttag["val"] - 7 / TPP
ttag_tri = alt.Chart(ttag).mark_point(shape="triangle-left", filled=True, fill="white", stroke="#000000",
                                      size=45, strokeWidth=1.3, opacity=1).encode(
    x=alt.value(W + 1), y=TY("val"))
ttag_box = alt.Chart(ttag).mark_rect(fill="white", stroke="#000000", strokeWidth=1.3).encode(
    x=alt.value(W + 3), x2=alt.value(W + 36), y=TY("y1"), y2="y2:Q")
ttag_txt = alt.Chart(ttag).mark_text(font=FONT, fontSize=10.5, fontWeight="bold", baseline="middle",
                                     align="center", color="#000000").encode(
    x=alt.value(W + 19.5), y=TY("val"), text="txt:N")
border_t = alt.Chart(one()).mark_rect(fill="transparent", stroke=BORDER, strokeWidth=1.5).encode(
    x=alt.value(0), x2=alt.value(W), y=alt.value(0), y2=alt.value(H2))

tnx = alt.layer(
    bg_t, wk_t, mo_t, hg_t, tbody, dash_t,
    *[ring(a, b, c, d, ts) for (a, b, c, d) in TNX_RINGS],
    *icon_candles(),
    text_at(f"$TNX (Daily) {last_t:.2f}", 18, 7.5, size=10, font=MONO, baseline="middle"),
    ttag_tri, ttag_box, ttag_txt, *month_labels(H2, 2.0),
    *tick_rows(H2, True, True, False), border_t,
).properties(width=W, height=H2)

chart = alt.vconcat(top, tnx, spacing=0).properties(
    padding={"left": 2, "top": 0, "right": 0, "bottom": 0}
).configure_view(stroke=None).configure(font=FONT)

chart.save("out.html", embed_options={"renderer": "svg", "actions": False})
